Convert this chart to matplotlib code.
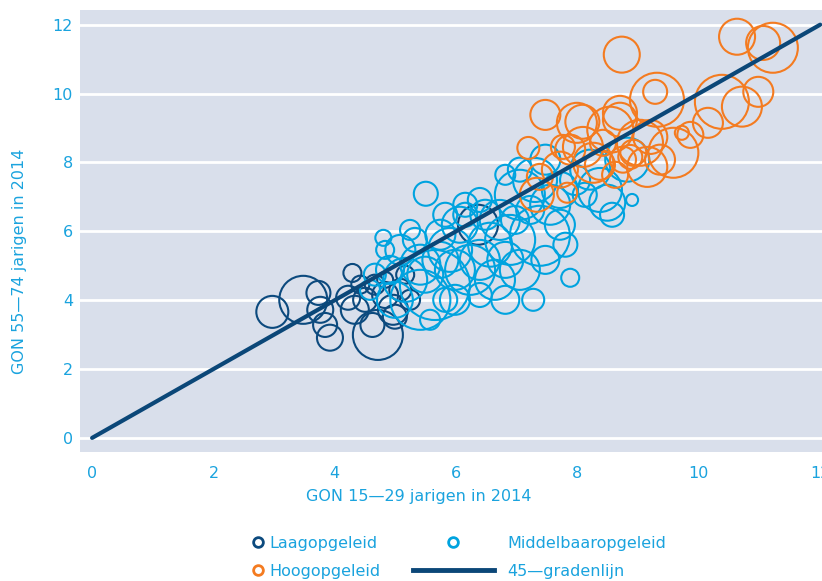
import matplotlib
matplotlib.use('Agg')
import matplotlib.pyplot as plt
import numpy as np
from matplotlib.lines import Line2D

# Laagopgeleid
laag_x = [2.97, 3.48, 3.73, 3.76, 3.84, 3.92, 4.29, 4.22, 4.71, 4.50, 4.62, 4.83,
          4.96, 5.08, 4.66, 4.42, 5.24, 6.36, 4.99, 4.83, 5.16, 4.33]
laag_y = [3.66, 4.01, 4.21, 3.72, 3.28, 2.91, 4.79, 4.07, 2.99, 4.01, 3.28, 4.15,
          3.72, 4.30, 4.45, 4.45, 4.01, 6.19, 3.52, 4.59, 4.74, 3.72]
laag_omvang = [16, 24, 12, 13, 12, 13, 9, 12, 25, 12, 12, 13,
               15, 11, 10, 9, 10, 20, 12, 8, 9, 14]

# Middelbaaropgeleid
midden_x = [4.99, 5.16, 5.41, 5.65, 5.08, 5.32, 5.41, 5.74, 5.90, 6.06, 6.23, 6.39,
            6.56, 6.64, 6.81, 6.72, 6.48, 6.15, 5.82, 6.89, 7.05, 7.38, 7.05, 7.30,
            7.55, 7.71, 7.47, 7.96, 8.21, 8.37, 8.49, 8.57, 8.82, 8.90, 7.88, 7.27,
            5.50, 6.81, 6.39, 5.98, 4.83, 4.91, 4.66, 5.57, 5.82, 7.22, 7.71, 8.12,
            7.05, 6.81, 6.15, 5.24, 4.80, 6.39, 4.58, 5.98, 5.74, 5.49, 7.80, 7.47,
            6.97]
midden_y = [4.01, 4.59, 4.01, 4.44, 5.46, 5.75, 5.03, 5.90, 5.46, 6.19, 4.88, 5.17,
            5.61, 4.59, 5.17, 6.33, 6.48, 6.48, 6.48, 5.75, 4.88, 5.87, 7.06, 7.49,
            6.77, 7.20, 8.08, 7.49, 7.79, 7.20, 6.83, 6.48, 8.08, 6.91, 4.65, 4.01,
            7.09, 4.01, 4.15, 4.01, 5.46, 4.88, 4.74, 3.43, 4.01, 6.62, 6.19, 7.06,
            7.79, 7.64, 6.77, 6.04, 5.81, 6.91, 4.30, 4.88, 5.17, 4.74, 5.61, 5.17,
            6.33]
midden_omvang = [18, 22, 30, 35, 15, 12, 20, 15, 22, 18, 25, 20,
                 22, 20, 18, 20, 15, 12, 12, 25, 20, 30, 25, 22,
                 20, 18, 15, 15, 20, 22, 18, 12, 22, 6, 9, 11,
                 12, 14, 12, 15, 9, 14, 11, 10, 12, 14, 15, 12,
                 12, 10, 12, 10, 8, 12, 10, 20, 18, 18, 12, 14,
                 14]

# Hoogopgeleid
hoog_x = [10.63, 11.06, 11.22, 10.38, 10.71, 10.98, 10.15, 9.72, 9.28, 9.31, 8.73, 7.47,
          7.19, 7.99, 8.54, 8.09, 8.70, 9.03, 9.58, 9.15, 8.92, 8.42, 7.76, 7.83,
          7.33, 7.38, 8.26, 8.75, 8.08, 8.70, 9.20, 7.88, 8.87, 9.86, 8.37, 9.36,
          7.71, 8.62]
hoog_y = [11.65, 11.47, 11.33, 9.76, 9.62, 10.05, 9.15, 8.86, 10.05, 9.82, 11.13, 9.38,
          8.42, 9.15, 8.95, 8.45, 9.24, 8.57, 8.28, 7.87, 8.28, 8.57, 8.45, 7.12,
          7.06, 7.58, 7.99, 8.08, 9.18, 9.44, 8.74, 8.37, 8.16, 8.80, 7.93, 8.08,
          7.79, 7.64]
hoog_omvang = [18, 17, 25, 27, 20, 15, 15, 7, 12, 27, 18, 15,
               11, 20, 23, 20, 17, 23, 25, 20, 13, 13, 12, 10,
               17, 13, 20, 13, 17, 17, 17, 15, 12, 13, 15, 15,
               18, 13]

lijn = [0, 12]

kleur_laag = '#0c4a7e'
kleur_midden = '#00a3df'
kleur_hoog = '#f47b20'
kleur_tekst = '#1aa3de'

plt.rcParams['font.family'] = ['DejaVu Sans']

fig = plt.figure(figsize=(8.22, 5.81), dpi=100)
ax = fig.add_axes([0.0973, 0.222, 0.9027, 0.761])
ax.set_facecolor('#d9dfeb')


def maat(omvang):
    return (1.44 * np.array(omvang)) ** 2


ax.scatter(laag_x, laag_y, s=maat(laag_omvang), facecolors='none',
           edgecolors=kleur_laag, linewidths=1.5, zorder=3)
ax.scatter(midden_x, midden_y, s=maat(midden_omvang), facecolors='none',
           edgecolors=kleur_midden, linewidths=1.5, zorder=3)
ax.scatter(hoog_x, hoog_y, s=maat(hoog_omvang), facecolors='none',
           edgecolors=kleur_hoog, linewidths=1.5, zorder=3)
ax.plot(lijn, lijn, color='#0b4778', lw=3.0, solid_capstyle='round', zorder=4)

ax.set_xlim(-0.2, 12.03)
ax.set_ylim(-0.41, 12.43)
ax.set_xticks(range(0, 13, 2))
ax.set_yticks(range(0, 13, 2))
ax.yaxis.grid(True, color='white', lw=2)
ax.set_axisbelow(True)
for s in ax.spines.values():
    s.set_visible(False)
ax.tick_params(length=0, labelsize=11.5, labelcolor=kleur_tekst)
ax.tick_params(axis='x', pad=10)
ax.tick_params(axis='y', pad=5)

fig.text(0.51, 0.145, 'GON 15\u201429 jarigen in 2014', color=kleur_tekst,
         fontsize=11.5, ha='center', va='center')
fig.text(0.024, 0.55, 'GON 55\u201474 jarigen in 2014', color=kleur_tekst,
         fontsize=11.5, ha='center', va='center', rotation=90)

h_laag = Line2D([], [], ls='none', marker='o', ms=7, mfc='none', mec=kleur_laag, mew=2)
h_hoog = Line2D([], [], ls='none', marker='o', ms=7, mfc='none', mec=kleur_hoog, mew=2)
h_mid = Line2D([], [], ls='none', marker='o', ms=7, mfc='none', mec=kleur_midden, mew=2)
h_lijn = Line2D([], [], color='#0b4778', lw=3.5)

leg1 = fig.legend([h_laag, h_hoog], ['Laagopgeleid', 'Hoogopgeleid'],
                  loc='upper left', bbox_to_anchor=(0.3066, 0.0775), frameon=False,
                  fontsize=11.5, labelcolor=kleur_tekst, handlelength=0.7,
                  handletextpad=0.4, labelspacing=0.8, borderpad=0, borderaxespad=0)
leg2 = fig.legend([h_mid, h_lijn], ['Middelbaaropgeleid', '45\u2014gradenlijn'],
                  loc='upper left', bbox_to_anchor=(0.502, 0.0775), frameon=False,
                  fontsize=11.5, labelcolor=kleur_tekst, handlelength=5.1,
                  handletextpad=0.85, labelspacing=0.8, borderpad=0, borderaxespad=0)

fig.savefig('out.png', dpi=100)
